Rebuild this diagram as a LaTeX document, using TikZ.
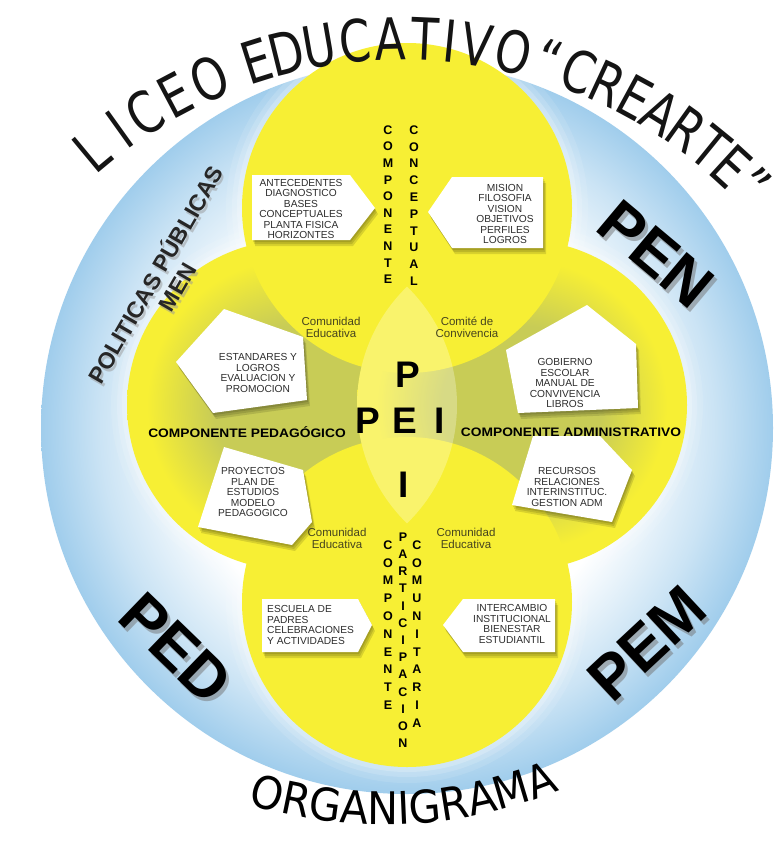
\documentclass[tikz,border=0pt]{standalone}
\usepackage{fontspec}
\setmainfont{Liberation Sans}
\newfontfamily\titlefont[FakeStretch=0.78]{DejaVu Sans}
\newfontfamily\orgfont[FakeStretch=0.92]{DejaVu Sans}
\newfontfamily\widebold[FakeStretch=1.12]{Liberation Sans}
\usetikzlibrary{decorations.text}
\definecolor{bgblue}{RGB}{160,205,236}
\definecolor{ylw}{RGB}{247,239,52}
\definecolor{olv}{RGB}{200,204,86}
\definecolor{lbl}{RGB}{70,68,30}
\definecolor{boxtxt}{RGB}{45,45,45}
\pgfdeclareradialshading{bgshade}{\pgfpoint{0bp}{0bp}}{color(0bp)=(white); color(15bp)=(white); color(21bp)=(bgblue!55); color(25bp)=(bgblue); color(50bp)=(bgblue)}
\pgfdeclareradialshading{sideshade}{\pgfpoint{0bp}{0bp}}{color(0bp)=(olv); color(12bp)=(olv); color(22bp)=(ylw); color(25bp)=(ylw); color(50bp)=(ylw)}
\newcommand\shadowed[1]{%
  \fill[shadowfill,xshift=1pt,yshift=-2pt] #1;
  \fill[shadowfill,xshift=2pt,yshift=-4pt] #1;
  \fill[shadowfill,xshift=3pt,yshift=-6pt] #1;
  \fill[white] #1;}
\newcommand\shA{(252,175) -- (350,175) -- (375,208) -- (350,240) -- (252,240) -- cycle}
\newcommand\shB{(452,177) -- (543,177) -- (543,248) -- (452,248) -- (428,212) -- cycle}
\newcommand\shC{(176,362) -- (224,309) -- (303,337) -- (307,400) -- (213,413) -- cycle}
\newcommand\shD{(198,527) -- (224,447) -- (303,470) -- (312,522) -- (292,545) -- cycle}
\newcommand\shE{(506,350) -- (587,305) -- (636,344) -- (638,408) -- (518,413) -- cycle}
\newcommand\shF{(512,505) -- (533,436) -- (600,436) -- (632,470) -- (612,522) -- cycle}
\newcommand\shG{(262,599) -- (358,599) -- (372,625) -- (358,652) -- (262,652) -- cycle}
\newcommand\shH{(463,599) -- (555,599) -- (555,652) -- (463,652) -- (443,625) -- cycle}
\tikzset{
  shadowfill/.style={fill=black,opacity=0.12},
  boxtext/.style={font=\fontsize{10.2}{10.5}\selectfont, align=center, text=boxtxt, inner sep=0pt},
  lbltext/.style={font=\fontsize{11.5}{12}\selectfont, align=center, text=lbl, inner sep=0pt},
  comp/.style={font=\widebold\fontsize{12.3}{13}\selectfont\bfseries, text=black, inner sep=0pt},
  vlet/.style={font=\fontsize{12.5}{12.5}\selectfont\bfseries, text=black, inner sep=0pt},
  pei/.style={font=\fontsize{37}{37}\selectfont\bfseries, text=black, inner sep=0pt},
  big/.style={font=\fontsize{62}{62}\selectfont\bfseries, text=black, inner sep=0pt},
  bigshadow/.style={font=\fontsize{62}{62}\selectfont\bfseries, text=black!55, opacity=0.5, inner sep=0pt},
  pol/.style={font=\fontsize{23}{25}\selectfont\bfseries, text=black!85, align=center, inner sep=0pt},
  titlelet/.style={font=\titlefont\fontsize{58}{58}\selectfont, text=black!92, inner sep=0pt, text height=42pt, text depth=0pt},
}
\begin{document}
\begin{tikzpicture}[x=1pt,y=-1pt]
\useasboundingbox (0,0) rectangle (775,841);
\fill[white] (0,0) rectangle (775,841);
\coordinate (cO) at (407,428);
\coordinate (cT) at (407,208);
\coordinate (cL) at (292,405);
\coordinate (cR) at (522,405);
\coordinate (cB) at (407,602);
\coordinate (tc) at (403,526);
% background
\shade[shading=bgshade] (cO) circle[radius=366];
% halos
\foreach \c/\r in {cT/165,cL/165,cR/165,cB/165}{
  \foreach \k/\op in {16/0.10,10/0.14,5/0.2}{
    \fill[white,opacity=\op] (\c) circle[radius=\r+\k];
  }
}
% yellow circles
\shade[shading=sideshade] (cL) circle[radius=165];
\shade[shading=sideshade] (cR) circle[radius=165];
\fill[ylw] (cT) circle[radius=165];
\fill[ylw] (cB) circle[radius=165];
\begin{scope}
  \clip (cL) circle[radius=165];
  \fill[white,opacity=0.28] (cR) circle[radius=165];
\end{scope}
% title letters along an arc
\foreach \a/\ch [count=\n] in {129.7/L,125.6/I,122.0/C,117.9/E,113.4/O,
  107.5/E,103.9/D,99.9/U,95.7/C,91.5/A,87.4/T,84.4/I,81.2/V,76.9/O,
  72.6/“,68.9/C,65.1/R,61.5/E,58.0/A,54.4/R,50.9/T,47.6/E,44.3/”}
  \node[titlelet, rotate=\a-90] (tl\n) at ([shift={(-\a:487)}]tc) {\ch};
\path[decorate, decoration={text along path, text align=center,
  text={|\orgfont\fontsize{45}{45}\selectfont|ORGANIGRAMA}}]
  (385,370) ++(112:455) arc[start angle=112, end angle=63, radius=455];
% boxes
\shadowed{\shA}
\shadowed{\shB}
\shadowed{\shC}
\shadowed{\shD}
\shadowed{\shE}
\shadowed{\shF}
\shadowed{\shG}
\shadowed{\shH}
\node[boxtext] (tA) at (301,209) {ANTECEDENTES\\DIAGNOSTICO\\BASES\\CONCEPTUALES\\PLANTA FISICA\\HORIZONTES};
\node[boxtext] (tB) at (505,214) {MISION\\FILOSOFIA\\VISION\\OBJETIVOS\\PERFILES\\LOGROS};
\node[boxtext] (tC) at (258,373) {ESTANDARES Y\\LOGROS\\EVALUACION Y\\PROMOCION};
\node[boxtext] (tD) at (253,492) {PROYECTOS\\PLAN DE\\ESTUDIOS\\MODELO\\PEDAGOGICO};
\node[boxtext] (tE) at (565,383) {GOBIERNO\\ESCOLAR\\MANUAL DE\\CONVIVENCIA\\LIBROS};
\node[boxtext] (tF) at (567,487) {RECURSOS\\RELACIONES\\INTERINSTITUC.\\GESTION ADM};
\node[boxtext, align=left, anchor=west] (tG) at (267,625) {ESCUELA DE\\PADRES\\CELEBRACIONES\\Y ACTIVIDADES};
\node[boxtext] (tH) at (512,624) {INTERCAMBIO\\INSTITUCIONAL\\BIENESTAR\\ESTUDIANTIL};
% labels
\node[lbltext] (lce1) at (331,327) {Comunidad\\Educativa};
\node[lbltext] (lcc) at (467,327) {Comité de\\Convivencia};
\node[lbltext] (lce2) at (337,538) {Comunidad\\Educativa};
\node[lbltext] (lce3) at (466,538) {Comunidad\\Educativa};
\node[comp] (cped) at (247,432) {COMPONENTE PEDAGÓGICO};
\node[comp] (cadm) at (571,432) {COMPONENTE ADMINISTRATIVO};
% PEI
\node[pei] (p1) at (408,375) {P};
\node[pei] (p2) at (368,421) {P};
\node[pei] (e1) at (405,421) {E};
\node[pei] (i1) at (440,421) {I};
\node[pei] (i2) at (404,485) {I};
% vertical words
\foreach \l [count=\i from 0] in {C,O,M,P,O,N,E,N,T,E}
  \node[vlet] (vtl\i) at (388,130+16.6*\i) {\l};
\foreach \l [count=\i from 0] in {C,O,N,C,E,P,T,U,A,L}
  \node[vlet] (vtr\i) at (414,130+16.8*\i) {\l};
\foreach \l [count=\i from 0] in {C,O,M,P,O,N,E,N,T,E}
  \node[vlet] (vbl\i) at (388,545+17.8*\i) {\l};
\foreach \l [count=\i from 0] in {P,A,R,T,I,C,I,P,A,C,I,O,N}
  \node[vlet] (vbm\i) at (403,537+17.2*\i) {\l};
\foreach \l [count=\i from 0] in {C,O,M,U,N,I,T,A,R,I,A}
  \node[vlet] (vbr\i) at (417,545+17.8*\i) {\l};
% big labels
\node[bigshadow, rotate=-40] (pens) at (659,258) {PEN};
\node[big, rotate=-40] (pen) at (656,254) {PEN};
\node[bigshadow, rotate=43] (pems) at (650,647) {PEM};
\node[big, rotate=43] (pem) at (647,643) {PEM};
\node[bigshadow, rotate=-44] (peds) at (179,652) {PED};
\node[big, rotate=-44] (ped) at (176,648) {PED};
\node[pol, rotate=60, text=black!40, opacity=0.5] (pols) at (167,283) {POLITICAS PÚBLICAS\\MEN};
\node[pol, rotate=60] (pol) at (165,280) {POLITICAS PÚBLICAS\\MEN};
\end{tikzpicture}
\end{document}
